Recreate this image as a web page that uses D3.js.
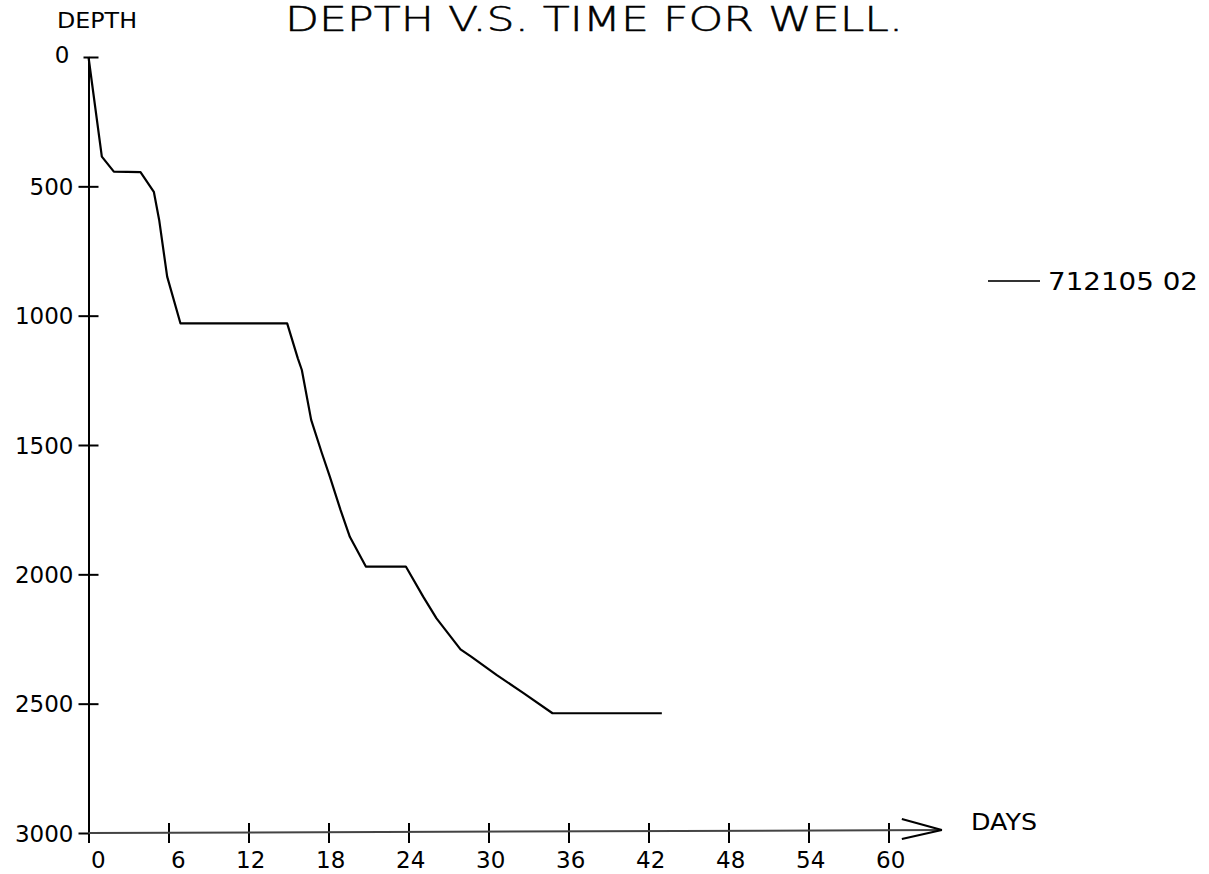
<!DOCTYPE html>
<html>
<head>
<meta charset="utf-8">
<script src="https://cdn.jsdelivr.net/npm/d3@7"></script>
<style>
  html, body { margin: 0; padding: 0; background: #fff; }
  svg { display: block; }
  text { font-family: "DejaVu Sans", sans-serif; fill: #000; }
</style>
</head>
<body>
<svg id="chart" width="1209" height="874"></svg>
<script>
// ---- data ----
const days   = [0, 1, 1.9, 3.9, 4.9, 5.3, 5.9, 6.9, 14.9, 15.7, 16.0, 16.7, 17.5, 18.1, 18.9, 19.6, 20.8, 23.8, 25.1, 26.1, 27.9, 28.7, 30.6, 32.6, 34.8, 43.0];
const depths = [0, 385, 443, 445, 521, 630, 849, 1030, 1030, 1165, 1210, 1403, 1531, 1622, 1751, 1855, 1970, 1970, 2086, 2170, 2290, 2318, 2389, 2458, 2537, 2537];
const xTicks = [0, 6, 12, 18, 24, 30, 36, 42, 48, 54, 60];
const yTicks = [0, 500, 1000, 1500, 2000, 2500, 3000];
const seriesName = "712105 02";
const titleText = "DEPTH V.S. TIME FOR WELL.";
const yLabel = "DEPTH";
const xLabel = "DAYS";

const svg = d3.select("#chart");
const x = d3.scaleLinear().domain([0, 60]).range([88.5, 888.5]);
const y = d3.scaleLinear().domain([0, 3000]).range([57, 833]);

// title
svg.append("text")
  .attr("x", 285).attr("y", 31)
  .attr("font-size", 33).attr("font-weight", 200)
  .attr("stroke", "#000").attr("stroke-width", 0.5)
  .attr("textLength", 618).attr("lengthAdjust", "spacingAndGlyphs")
  .text(titleText);

// y axis label
svg.append("text")
  .attr("x", 57).attr("y", 28)
  .attr("font-size", 22)
  .attr("textLength", 80).attr("lengthAdjust", "spacingAndGlyphs")
  .text(yLabel);

// ---- Y axis ----
const yAxis = svg.append("g")
  .attr("transform", `translate(${x(0)},0)`)
  .call(d3.axisLeft(y).tickValues(yTicks).tickSize(0).tickFormat(d3.format("d")));
yAxis.attr("font-size", 23).attr("font-family", "DejaVu Sans");
yAxis.select(".domain").attr("stroke", "#000").attr("stroke-width", 2);
yAxis.selectAll(".tick line")
  .attr("x1", -10).attr("x2", 10)
  .attr("stroke", "#000").attr("stroke-width", 2);
yAxis.selectAll(".tick text")
  .attr("x", -15).attr("dy", "0.36em")
  .attr("font-size", 23)
  .attr("text-anchor", "end");
yAxis.selectAll(".tick").filter(d => d === 0).select("line").attr("x1", -5);
yAxis.selectAll(".tick").filter(d => d === 0).select("text").attr("x", -19).attr("dy", "0.22em");
yAxis.selectAll(".tick").filter(d => d === 3000).select("line").attr("x2", 0);

// ---- X axis ----
const xAxis = svg.append("g")
  .attr("transform", `translate(0,${y(3000)})`)
  .call(d3.axisBottom(x).tickValues(xTicks).tickSize(0).tickFormat(d3.format("d")));
xAxis.attr("font-size", 23).attr("font-family", "DejaVu Sans");
xAxis.select(".domain").remove();
xAxis.selectAll(".tick line")
  .attr("y1", -10).attr("y2", 10)
  .attr("stroke", "#000").attr("stroke-width", 2);
xAxis.selectAll(".tick").filter(d => d === 0).select("line").attr("y1", 0);
xAxis.selectAll(".tick text")
  .attr("y", 35).attr("dy", 0)
  .attr("font-size", 23)
  .attr("text-anchor", "start")
  .attr("x", function(d) { const n = String(d).length; return n === 1 ? 2 : -13; });

// axis line with arrow
const xEnd = x(64), xBack = x(61);
svg.append("path")
  .attr("d", `M${x(0)},${y(3000)}L${xEnd},${y(3000) - 3}`)
  .attr("stroke", "#444").attr("stroke-width", 2).attr("fill", "none");
svg.append("path")
  .attr("d", `M${xBack},${y(3000) - 14}L${xEnd},${y(3000) - 3}L${xBack},${y(3000) + 6}`)
  .attr("stroke", "#000").attr("stroke-width", 2).attr("fill", "none");

// x axis label
svg.append("text")
  .attr("x", 971).attr("y", 830)
  .attr("font-size", 23)
  .attr("textLength", 66).attr("lengthAdjust", "spacingAndGlyphs")
  .text(xLabel);

// ---- data line ----
const pts = days.map((d, i) => [d, depths[i]]);
svg.append("path")
  .datum(pts)
  .attr("d", d3.line().x(d => x(d[0])).y(d => y(d[1])))
  .attr("fill", "none").attr("stroke", "#000").attr("stroke-width", 2.2)
  .attr("stroke-linejoin", "round");

// ---- legend ----
svg.append("line")
  .attr("x1", 988).attr("x2", 1040).attr("y1", 281).attr("y2", 281)
  .attr("stroke", "#333").attr("stroke-width", 1.8);
svg.append("text")
  .attr("x", 1048).attr("y", 290)
  .attr("font-size", 25)
  .attr("textLength", 150).attr("lengthAdjust", "spacingAndGlyphs")
  .text(seriesName);
</script>
</body>
</html>
